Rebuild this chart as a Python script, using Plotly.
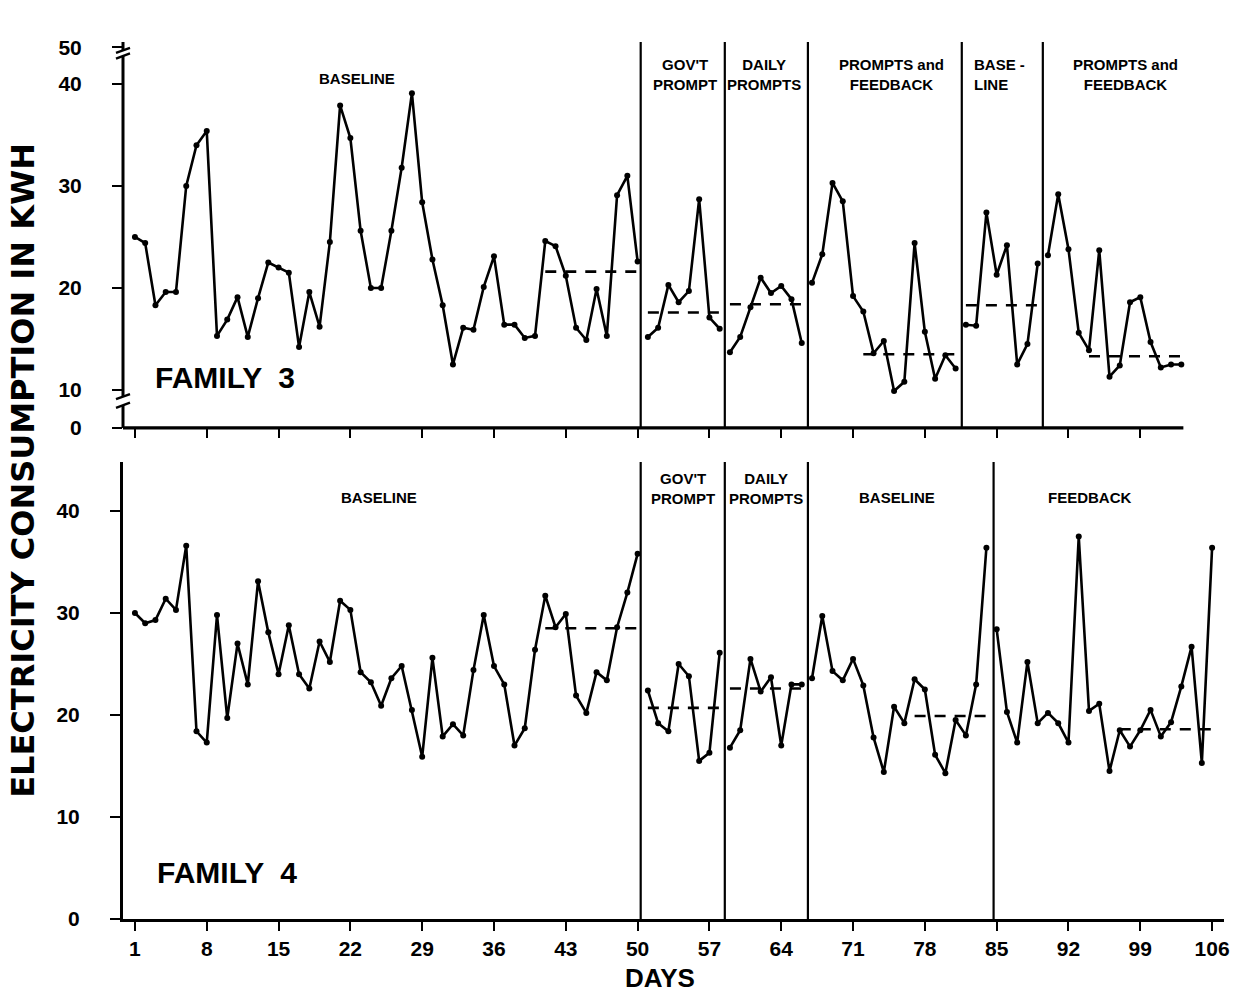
import plotly.graph_objects as go

# ---------------- data ----------------
days_f3 = list(range(1, 104))
kwh_f3 = [25.0, 24.4, 18.3, 19.6, 19.6, 30.0, 34.0, 35.4, 15.3, 16.9,
          19.1, 15.2, 19.0, 22.5, 22.0, 21.5, 14.2, 19.6, 16.2, 24.5,
          37.9, 34.7, 25.6, 20.0, 20.0, 25.6, 31.8, 39.1, 28.4, 22.8,
          18.3, 12.5, 16.1, 15.9, 20.1, 23.1, 16.4, 16.4, 15.1, 15.3,
          24.6, 24.1, 21.2, 16.1, 14.9, 19.9, 15.3, 29.1, 31.0, 22.6,
          15.2, 16.1, 20.3, 18.6, 19.7, 28.7, 17.1, 16.0,
          13.7, 15.2, 18.1, 21.0, 19.5, 20.2, 18.9, 14.6,
          20.5, 23.3, 30.3, 28.5, 19.2, 17.7, 13.6, 14.8, 9.9, 10.8, 24.4, 15.7, 11.1, 13.4, 12.1,
          16.4, 16.3, 27.4, 21.3, 24.2, 12.5, 14.5, 22.4,
          23.2, 29.2, 23.8, 15.6, 13.9, 23.7, 11.3, 12.4, 18.6, 19.1, 14.7, 12.2, 12.5, 12.5]
f3_phase_start = [1, 51, 59, 67, 82, 90]
f3_phase_lines = [50.3, 58.5, 66.6, 81.6, 89.5]
f3_phase_names = ["BASELINE", "GOV'T<br>PROMPT", "DAILY<br>PROMPTS",
                  "PROMPTS and<br>FEEDBACK", "BASE -<br>LINE", "PROMPTS and<br>FEEDBACK"]
f3_mean_start = [41, 51, 59, 72, 82, 94]
f3_mean_end = [50, 58, 66, 81, 89, 103]
f3_mean_val = [21.6, 17.6, 18.4, 13.5, 18.3, 13.3]

days_f4 = list(range(1, 107))
kwh_f4 = [30.0, 29.0, 29.3, 31.4, 30.3, 36.6, 18.4, 17.3, 29.8, 19.7,
          27.0, 23.0, 33.1, 28.1, 24.0, 28.8, 24.0, 22.6, 27.2, 25.2,
          31.2, 30.3, 24.2, 23.2, 20.9, 23.6, 24.8, 20.5,
          15.9, 25.6, 17.9, 19.1, 18.0, 24.4, 29.8, 24.8, 23.0, 17.0, 18.7, 26.4,
          31.7, 28.6, 29.9, 21.9, 20.2, 24.2, 23.4, 28.6, 32.0, 35.8,
          22.4, 19.2, 18.4, 25.0, 23.8, 15.5, 16.3, 26.1,
          16.8, 18.5, 25.5, 22.3, 23.7, 17.0, 23.0, 23.0,
          23.6, 29.7, 24.3, 23.4, 25.5, 22.9, 17.8, 14.4, 20.8, 19.2, 23.5, 22.5, 16.1, 14.3,
          19.5, 18.0, 23.0, 36.4,
          28.4, 20.3, 17.3, 25.2, 19.2, 20.2, 19.2, 17.3, 37.5, 20.4, 21.1, 14.5, 18.5, 16.9,
          18.5, 20.5, 17.9, 19.3, 22.8, 26.7, 15.3, 36.4]
f4_phase_start = [1, 51, 59, 67, 85]
f4_phase_lines = [50.3, 58.5, 66.6, 84.7]
f4_phase_names = ["BASELINE", "GOV'T<br>PROMPT", "DAILY<br>PROMPTS", "BASELINE", "FEEDBACK"]
f4_mean_start = [41, 51, 59, 77, 97]
f4_mean_end = [50, 58, 66, 84, 106]
f4_mean_val = [28.5, 20.7, 22.6, 19.9, 18.6]

x_ticks = list(range(1, 107, 7))
f3_ytick_vals = [6.27, 10, 20, 30, 40, 43.6]
f3_ytick_text = ["0", "10", "20", "30", "40", "50"]
f4_ytick_vals = [0, 10, 20, 30, 40]

# ---------------- layout helpers ----------------
X_RANGE = [-0.163, 107.16]
Y3_RANGE = [6.27, 44.12]
Y4_RANGE = [0, 44.8]
TOP_DOM = [0.5599, 1.0]
BOT_DOM = [0.0, 0.5211]
LW = 2.6
TICKFONT = dict(family="Liberation Sans, Arial, sans-serif", size=21, color="black", weight="bold")
LBLFONT = dict(family="Liberation Sans, Arial, sans-serif", size=15, color="black", weight="bold")

fig = go.Figure()


def add_series(days, vals, starts, xa, ya):
    bounds = starts + [days[-1] + 1]
    for i in range(len(starts)):
        xs = [d for d in days if bounds[i] <= d < bounds[i + 1]]
        ys = [vals[d - days[0]] for d in xs]
        fig.add_trace(go.Scatter(x=xs, y=ys, mode="lines+markers", xaxis=xa, yaxis=ya,
                                 line=dict(color="black", width=LW),
                                 marker=dict(color="black", size=6),
                                 showlegend=False, hoverinfo="x+y"))


def add_means(s, e, v, xa, ya):
    for a, b, m in zip(s, e, v):
        fig.add_trace(go.Scatter(x=[a, b], y=[m, m], mode="lines", xaxis=xa, yaxis=ya,
                                 line=dict(color="black", width=LW, dash="11px,9px"),
                                 showlegend=False, hoverinfo="skip"))


add_series(days_f3, kwh_f3, f3_phase_start, "x", "y")
add_means(f3_mean_start, f3_mean_end, f3_mean_val, "x", "y")
add_series(days_f4, kwh_f4, f4_phase_start, "x2", "y2")
add_means(f4_mean_start, f4_mean_end, f4_mean_val, "x2", "y2")

shapes = []
# phase change lines
for p in f3_phase_lines:
    shapes.append(dict(type="line", xref="x", yref="y domain", x0=p, x1=p, y0=0, y1=1,
                       line=dict(color="black", width=2.2)))
for p in f4_phase_lines:
    shapes.append(dict(type="line", xref="x2", yref="y2 domain", x0=p, x1=p, y0=0, y1=1,
                       line=dict(color="black", width=2.2)))

# top panel x axis line (ends before the right edge)
x_end_top = (103.2 - X_RANGE[0]) / (X_RANGE[1] - X_RANGE[0])
shapes.append(dict(type="line", xref="paper", yref="paper", x0=0, x1=x_end_top,
                   y0=TOP_DOM[0], y1=TOP_DOM[0], line=dict(color="black", width=3.2)))

# top panel broken y axis
seg = [(Y3_RANGE[1], 43.3), (42.75, 9.35), (8.5, Y3_RANGE[0])]
for a, b in seg:
    shapes.append(dict(type="line", xref="paper", yref="y", x0=0, x1=0, y0=a, y1=b,
                       line=dict(color="black", width=3)))
for yb in [43.3, 42.75, 9.35, 8.5]:
    shapes.append(dict(type="line", xref="paper", yref="y", xsizemode="pixel", xanchor=0,
                       x0=-7, x1=7, y0=yb - 0.25, y1=yb + 0.25,
                       line=dict(color="black", width=2.4)))

annotations = []
f3_lbl_x = [22.6, 54.6, 62.3, 74.7, 85.3, 97.6]
f3_lbl_y = [40.5, 40.9, 40.9, 40.9, 40.9, 40.9]
for t, x, y in zip(f3_phase_names, f3_lbl_x, f3_lbl_y):
    annotations.append(dict(text=t, x=x, y=y, xref="x", yref="y", showarrow=False,
                            font=LBLFONT, xanchor="center", yanchor="middle",
                            align="left" if "BASE -" in t else "center"))
f4_lbl_x = [24.75, 54.4, 62.5, 75.3, 94.1]
f4_lbl_y = [41.3, 42.25, 42.25, 41.3, 41.3]
for t, x, y in zip(f4_phase_names, f4_lbl_x, f4_lbl_y):
    annotations.append(dict(text=t, x=x, y=y, xref="x2", yref="y2", showarrow=False,
                            font=LBLFONT, xanchor="center", yanchor="middle"))

famfont = dict(family="Liberation Sans, Arial, sans-serif", size=30, color="black", weight="bold")
annotations.append(dict(text="FAMILY  3", x=2.75, y=11.2, xref="x", yref="y", showarrow=False,
                        font=famfont, xanchor="left", yanchor="middle"))
annotations.append(dict(text="FAMILY  4", x=2.94, y=4.6, xref="x2", yref="y2", showarrow=False,
                        font=famfont, xanchor="left", yanchor="middle"))
annotations.append(dict(text="ELECTRICITY CONSUMPTION IN KWH", x=-0.091, y=0.512,
                        xref="paper", yref="paper", showarrow=False, textangle=-90,
                        font=dict(family="DejaVu Sans, sans-serif", size=32, color="black",
                                  weight="bold"),
                        xanchor="center", yanchor="middle"))
annotations.append(dict(text="DAYS", x=0.488, y=-0.0673, xref="paper", yref="paper",
                        showarrow=False,
                        font=dict(family="Liberation Sans, Arial, sans-serif", size=26,
                                  color="black", weight="bold"),
                        xanchor="center", yanchor="middle"))

axis_common = dict(showgrid=False, zeroline=False, ticks="outside", tickcolor="black",
                   tickwidth=2.4, tickfont=TICKFONT)

fig.update_layout(
    width=1242, height=996,
    margin=dict(l=123, r=12, t=42, b=77),
    paper_bgcolor="white", plot_bgcolor="white",
    showlegend=False,
    xaxis=dict(domain=[0, 1], anchor="y", range=X_RANGE, tickvals=x_ticks[:-1],
               showticklabels=False, showline=False, ticklen=9, **axis_common),
    yaxis=dict(domain=TOP_DOM, anchor="x", range=Y3_RANGE, tickvals=f3_ytick_vals,
               ticktext=f3_ytick_text, showline=False, ticklen=10, ticklabelstandoff=26,
               **axis_common),
    xaxis2=dict(domain=[0, 1], anchor="y2", range=X_RANGE, tickvals=x_ticks,
                showline=True, linecolor="black", linewidth=3.2, ticklen=9, **axis_common),
    yaxis2=dict(domain=BOT_DOM, anchor="x2", range=Y4_RANGE, tickvals=f4_ytick_vals,
                showline=True, linecolor="black", linewidth=3, ticklen=10,
                ticklabelstandoff=26, **axis_common),
    shapes=shapes,
    annotations=annotations,
)

fig.write_html("out.html", config={"displayModeBar": False},
               post_script="document.body.style.margin='0';document.body.style.overflow='hidden';")
